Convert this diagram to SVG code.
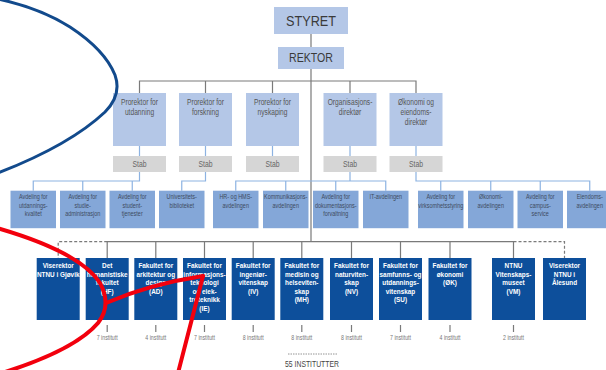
<svg xmlns="http://www.w3.org/2000/svg" width="606" height="370" viewBox="0 0 606 370">
<style>
.top{fill:#b4c7e7}
.pr{fill:#b4c7e7}
.st{fill:#d6d6d6}
.av{fill:#84a7d8}
.fk{fill:#0d4f9b}
text{font-family:"Liberation Sans",Arial,sans-serif;text-anchor:middle}
.tt{font-size:15.5px;fill:#3a3a3a}
.tr{font-size:12.6px;fill:#3a3a3a}
.tp{font-size:9px;fill:#555}
.ts{font-size:9.5px;fill:#666}
.ta{font-size:7.8px;fill:#3e4b5e}
.tf{font-size:8px;fill:#fff;font-weight:bold}
.ti{font-size:7px;fill:#777}
.tb{font-size:9px;fill:#444}
.gl{stroke:#7a7a7a;stroke-width:1.2;fill:none}
.bl{stroke:#8db3e2;stroke-width:1.2;fill:none}
.dl{stroke:#7a7a7a;stroke-width:1.2;fill:none;stroke-dasharray:3 2}
.rd{stroke:#f2000d;stroke-width:4;fill:none;stroke-linecap:round}
.bu{stroke:#124a8c;stroke-width:3;fill:none;stroke-linecap:round}
</style>
<g id="connectors">
<path class="gl" d="M311,34V47M311,69V241.7M139.5,93V81H416V93M205.5,81V93M272.5,81V93M350,81V93"/>
<path class="bl" d="M139.5,146V156M205.5,146V156M272.5,146V156M350,146V156M416,146V156"/>
<path class="bl" d="M139.5,172V181H33.25V190.7M82.75,181V190.7M132.25,181V190.7"/>
<path class="bl" d="M205.5,172V181H181.75V190.7"/>
<path class="bl" d="M350,172V181M235.75,190.7V181H385.75V190.7M285.75,181V190.7M335.75,181V190.7"/>
<path class="bl" d="M416,172V181H589.75V190.7M440.75,181V190.7M490.75,181V190.7M540.25,181V190.7"/>
<path class="gl" d="M107.2,258V241.7H513.5V258M155.8,241.7V258M204.5,241.7V258M253.2,241.7V258M301.8,241.7V258M351.5,241.7V258M400.5,241.7V258M450,241.7V258"/>
<path class="dl" d="M107.2,241.7H58.2V258M513.5,241.7H564.5V258"/>
<path class="gl" d="M107.2,325V332M155.8,325V332M204.5,325V332M253.2,325V332M301.8,325V332M351.5,325V332M400.5,325V332M450,325V332M513.5,325V332"/>
<path class="dl" d="M288,354H337" style="stroke-width:0.8;stroke-dasharray:1.5 1"/>
</g>
<g id="styret"><rect class="top" x="274" y="7" width="74" height="27"/><text class="tt" transform="translate(311,0) scale(0.82,1)" x="0" y="26.5">STYRET</text></g>
<g id="rektor"><rect class="top" x="278" y="47" width="66" height="22"/><text class="tr" transform="translate(311,0) scale(0.84,1)" x="0" y="62.5">REKTOR</text></g>
<g id="pr-utdanning"><rect class="pr" x="113" y="93" width="53" height="53"/><text class="tp" transform="translate(139.5,0) scale(0.74,1)"><tspan x="0" y="105.5">Prorektor for</tspan><tspan x="0" y="115.5">utdanning</tspan></text></g>
<g id="pr-forskning"><rect class="pr" x="179" y="93" width="53" height="53"/><text class="tp" transform="translate(205.5,0) scale(0.74,1)"><tspan x="0" y="105.5">Prorektor for</tspan><tspan x="0" y="115.5">forskning</tspan></text></g>
<g id="pr-nyskaping"><rect class="pr" x="246" y="93" width="53" height="53"/><text class="tp" transform="translate(272.5,0) scale(0.74,1)"><tspan x="0" y="105.5">Prorektor for</tspan><tspan x="0" y="115.5">nyskaping</tspan></text></g>
<g id="org-dir"><rect class="pr" x="323.5" y="93" width="53" height="53"/><text class="tp" transform="translate(350,0) scale(0.74,1)"><tspan x="0" y="105.5">Organisasjons-</tspan><tspan x="0" y="115.5">direktør</tspan></text></g>
<g id="ok-dir"><rect class="pr" x="389.5" y="93" width="53" height="53"/><text class="tp" transform="translate(416,0) scale(0.74,1)"><tspan x="0" y="105.5">Økonomi og</tspan><tspan x="0" y="115.5">eiendoms-</tspan><tspan x="0" y="125.5">direktør</tspan></text></g>
<g id="stab-1"><rect class="st" x="113" y="156" width="53" height="16"/><text class="ts" transform="translate(139.5,0) scale(0.72,1)" x="0" y="167.3">Stab</text></g>
<g id="stab-2"><rect class="st" x="179" y="156" width="53" height="16"/><text class="ts" transform="translate(205.5,0) scale(0.72,1)" x="0" y="167.3">Stab</text></g>
<g id="stab-3"><rect class="st" x="246" y="156" width="53" height="16"/><text class="ts" transform="translate(272.5,0) scale(0.72,1)" x="0" y="167.3">Stab</text></g>
<g id="stab-4"><rect class="st" x="323.5" y="156" width="53" height="16"/><text class="ts" transform="translate(350,0) scale(0.72,1)" x="0" y="167.3">Stab</text></g>
<g id="stab-5"><rect class="st" x="389.5" y="156" width="53" height="16"/><text class="ts" transform="translate(416,0) scale(0.72,1)" x="0" y="167.3">Stab</text></g>
<g id="avd-1"><rect class="av" x="10.5" y="190.7" width="45.5" height="37.5"/><text class="ta" transform="translate(33.25,0) scale(0.7,1)"><tspan x="0" y="199.5">Avdeling for</tspan><tspan x="0" y="207.8">utdannings-</tspan><tspan x="0" y="216.1">kvalitet</tspan></text></g>
<g id="avd-2"><rect class="av" x="60" y="190.7" width="45.5" height="37.5"/><text class="ta" transform="translate(82.75,0) scale(0.7,1)"><tspan x="0" y="199.5">Avdeling for</tspan><tspan x="0" y="207.8">studie-</tspan><tspan x="0" y="216.1">administrasjon</tspan></text></g>
<g id="avd-3"><rect class="av" x="109.5" y="190.7" width="45.5" height="37.5"/><text class="ta" transform="translate(132.25,0) scale(0.7,1)"><tspan x="0" y="199.5">Avdeling for</tspan><tspan x="0" y="207.8">student-</tspan><tspan x="0" y="216.1">tjenester</tspan></text></g>
<g id="avd-4"><rect class="av" x="159" y="190.7" width="45.5" height="37.5"/><text class="ta" transform="translate(181.75,0) scale(0.7,1)"><tspan x="0" y="199.5">Universitets-</tspan><tspan x="0" y="207.8">biblioteket</tspan></text></g>
<g id="avd-5"><rect class="av" x="213" y="190.7" width="45.5" height="37.5"/><text class="ta" transform="translate(235.75,0) scale(0.7,1)"><tspan x="0" y="199.5">HR- og HMS-</tspan><tspan x="0" y="207.8">avdelingen</tspan></text></g>
<g id="avd-6"><rect class="av" x="263" y="190.7" width="45.5" height="37.5"/><text class="ta" transform="translate(285.75,0) scale(0.7,1)"><tspan x="0" y="199.5">Kommunikasjons-</tspan><tspan x="0" y="207.8">avdelingen</tspan></text></g>
<g id="avd-7"><rect class="av" x="313" y="190.7" width="45.5" height="37.5"/><text class="ta" transform="translate(335.75,0) scale(0.7,1)"><tspan x="0" y="199.5">Avdeling for</tspan><tspan x="0" y="207.8">dokumentasjons-</tspan><tspan x="0" y="216.1">forvaltning</tspan></text></g>
<g id="avd-8"><rect class="av" x="363" y="190.7" width="45.5" height="37.5"/><text class="ta" transform="translate(385.75,0) scale(0.7,1)"><tspan x="0" y="199.5">IT-avdelingen</tspan></text></g>
<g id="avd-9"><rect class="av" x="418" y="190.7" width="45.5" height="37.5"/><text class="ta" transform="translate(440.75,0) scale(0.7,1)"><tspan x="0" y="199.5">Avdeling for</tspan><tspan x="0" y="207.8">virksomhetsstyring</tspan></text></g>
<g id="avd-10"><rect class="av" x="468" y="190.7" width="45.5" height="37.5"/><text class="ta" transform="translate(490.75,0) scale(0.7,1)"><tspan x="0" y="199.5">Økonomi-</tspan><tspan x="0" y="207.8">avdelingen</tspan></text></g>
<g id="avd-11"><rect class="av" x="517.5" y="190.7" width="45.5" height="37.5"/><text class="ta" transform="translate(540.25,0) scale(0.7,1)"><tspan x="0" y="199.5">Avdeling for</tspan><tspan x="0" y="207.8">campus-</tspan><tspan x="0" y="216.1">service</tspan></text></g>
<g id="avd-12"><rect class="av" x="567" y="190.7" width="45.5" height="37.5"/><text class="ta" transform="translate(589.75,0) scale(0.7,1)"><tspan x="0" y="199.5">Eiendoms-</tspan><tspan x="0" y="207.8">avdelingen</tspan></text></g>
<g id="fak-gjovik"><rect class="fk" x="36.7" y="258" width="43" height="62"/><text class="tf" transform="translate(58.2,0) scale(0.8,1)"><tspan x="0" y="268">Viserektor</tspan><tspan x="0" y="276.6">NTNU i Gjøvik</tspan></text></g>
<g id="fak-hf"><rect class="fk" x="85.7" y="258" width="43" height="62"/><text class="tf" transform="translate(107.2,0) scale(0.8,1)"><tspan x="0" y="268">Det</tspan><tspan x="0" y="276.6">humanistiske</tspan><tspan x="0" y="285.2">fakultet</tspan><tspan x="0" y="293.8">(HF)</tspan></text></g>
<g id="fak-ad"><rect class="fk" x="134.3" y="258" width="43" height="62"/><text class="tf" transform="translate(155.8,0) scale(0.8,1)"><tspan x="0" y="268">Fakultet for</tspan><tspan x="0" y="276.6">arkitektur og</tspan><tspan x="0" y="285.2">design</tspan><tspan x="0" y="293.8">(AD)</tspan></text></g>
<g id="fak-ie"><rect class="fk" x="183" y="258" width="43" height="62"/><text class="tf" transform="translate(204.5,0) scale(0.8,1)"><tspan x="0" y="268">Fakultet for</tspan><tspan x="0" y="276.6">informasjons-</tspan><tspan x="0" y="285.2">teknologi</tspan><tspan x="0" y="293.8">og elek-</tspan><tspan x="0" y="302.4">troteknikk</tspan><tspan x="0" y="311">(IE)</tspan></text></g>
<g id="fak-iv"><rect class="fk" x="231.7" y="258" width="43" height="62"/><text class="tf" transform="translate(253.2,0) scale(0.8,1)"><tspan x="0" y="268">Fakultet for</tspan><tspan x="0" y="276.6">ingeniør-</tspan><tspan x="0" y="285.2">vitenskap</tspan><tspan x="0" y="293.8">(IV)</tspan></text></g>
<g id="fak-mh"><rect class="fk" x="280.3" y="258" width="43" height="62"/><text class="tf" transform="translate(301.8,0) scale(0.8,1)"><tspan x="0" y="268">Fakultet for</tspan><tspan x="0" y="276.6">medisin og</tspan><tspan x="0" y="285.2">helseviten-</tspan><tspan x="0" y="293.8">skap</tspan><tspan x="0" y="302.4">(MH)</tspan></text></g>
<g id="fak-nv"><rect class="fk" x="330" y="258" width="43" height="62"/><text class="tf" transform="translate(351.5,0) scale(0.8,1)"><tspan x="0" y="268">Fakultet for</tspan><tspan x="0" y="276.6">naturviten-</tspan><tspan x="0" y="285.2">skap</tspan><tspan x="0" y="293.8">(NV)</tspan></text></g>
<g id="fak-su"><rect class="fk" x="379" y="258" width="43" height="62"/><text class="tf" transform="translate(400.5,0) scale(0.8,1)"><tspan x="0" y="268">Fakultet for</tspan><tspan x="0" y="276.6">samfunns- og</tspan><tspan x="0" y="285.2">utdannings-</tspan><tspan x="0" y="293.8">vitenskap</tspan><tspan x="0" y="302.4">(SU)</tspan></text></g>
<g id="fak-ok"><rect class="fk" x="428.5" y="258" width="43" height="62"/><text class="tf" transform="translate(450,0) scale(0.8,1)"><tspan x="0" y="268">Fakultet for</tspan><tspan x="0" y="276.6">økonomi</tspan><tspan x="0" y="285.2">(ØK)</tspan></text></g>
<g id="fak-vm"><rect class="fk" x="492" y="258" width="43" height="62"/><text class="tf" transform="translate(513.5,0) scale(0.8,1)"><tspan x="0" y="268">NTNU</tspan><tspan x="0" y="276.6">Vitenskaps-</tspan><tspan x="0" y="285.2">museet</tspan><tspan x="0" y="293.8">(VM)</tspan></text></g>
<g id="fak-alesund"><rect class="fk" x="543" y="258" width="43" height="62"/><text class="tf" transform="translate(564.5,0) scale(0.8,1)"><tspan x="0" y="268">Viserektor</tspan><tspan x="0" y="276.6">NTNU i</tspan><tspan x="0" y="285.2">Ålesund</tspan></text></g>
<g id="institutt">
<text class="ti" transform="translate(107.2,0) scale(0.75,1)" x="0" y="340">7 institutt</text>
<text class="ti" transform="translate(155.8,0) scale(0.75,1)" x="0" y="340">4 institutt</text>
<text class="ti" transform="translate(204.5,0) scale(0.75,1)" x="0" y="340">7 institutt</text>
<text class="ti" transform="translate(253.2,0) scale(0.75,1)" x="0" y="340">8 institutt</text>
<text class="ti" transform="translate(301.8,0) scale(0.75,1)" x="0" y="340">8 institutt</text>
<text class="ti" transform="translate(351.5,0) scale(0.75,1)" x="0" y="340">8 institutt</text>
<text class="ti" transform="translate(400.5,0) scale(0.75,1)" x="0" y="340">7 institutt</text>
<text class="ti" transform="translate(450,0) scale(0.75,1)" x="0" y="340">4 institutt</text>
<text class="ti" transform="translate(513.5,0) scale(0.75,1)" x="0" y="340">2 institutt</text>
</g>
<g id="total"><text class="tb" transform="translate(312,0) scale(0.76,1)" x="0" y="367.5">55 INSTITUTTER</text></g>
<g id="annotations">
<path class="bu" d="M-2,-1 Q40,8 70,27 Q105,50 115,75 Q122,95 105,112 Q70,145 -2,173"/>
<path class="rd" d="M-3,228 Q80,252 100,283 Q112,305 98,323 Q75,350 2,373"/>
<path class="rd" d="M106,303 Q150,284 203,276"/>
<path class="rd" d="M203,276 L178,373"/>
</g>
</svg>
